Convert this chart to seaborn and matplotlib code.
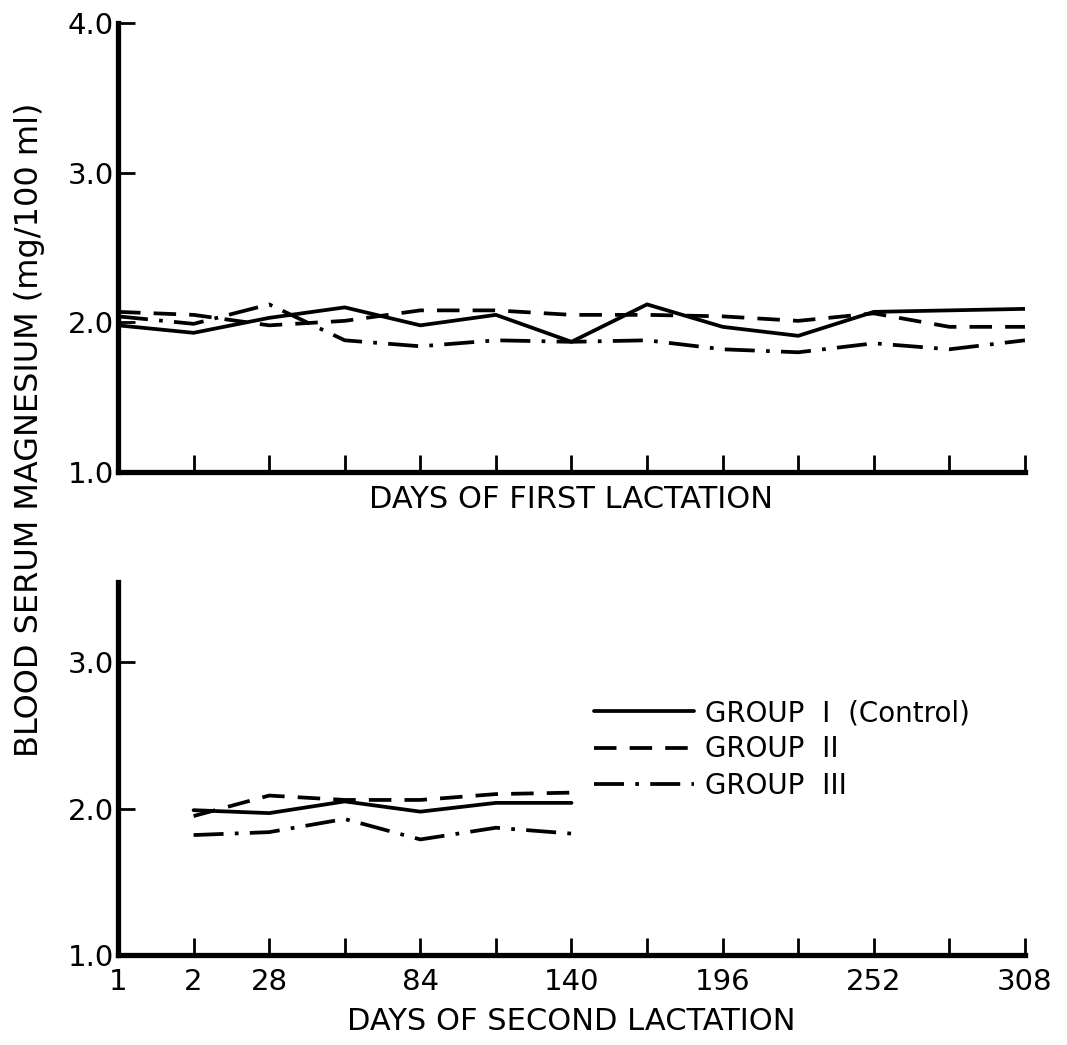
import pandas as pd
import seaborn as sns
import matplotlib.pyplot as plt

# dias de amostragem (posições categóricas no eixo x)
days = [1, 2, 28, 56, 84, 112, 140, 168, 196, 224, 252, 280, 308]
tick_labels = ['1', '2', '28', '', '84', '', '140', '', '196', '', '252', '', '308']
groups = ['GROUP  I  (Control)', 'GROUP  II', 'GROUP  III']

# primeira lactação (mg/100 ml)
first_g1 = [1.98, 1.93, 2.03, 2.10, 1.98, 2.05, 1.87, 2.12, 1.97, 1.91, 2.07, 2.08, 2.09]
first_g2 = [2.07, 2.05, 1.98, 2.01, 2.08, 2.08, 2.05, 2.05, 2.04, 2.01, 2.06, 1.97, 1.97]
first_g3 = [2.04, 1.99, 2.12, 1.88, 1.84, 1.88, 1.87, 1.88, 1.82, 1.80, 1.86, 1.82, 1.88]

# segunda lactação (dias 2 a 140)
second_days = [2, 28, 56, 84, 112, 140]
second_g1 = [1.99, 1.97, 2.05, 1.98, 2.04, 2.04]
second_g2 = [1.95, 2.09, 2.06, 2.06, 2.10, 2.11]
second_g3 = [1.82, 1.84, 1.93, 1.79, 1.87, 1.83]


def long_df(day_list, series):
    rows = []
    for grp, vals in zip(groups, series):
        for d, v in zip(day_list, vals):
            rows.append({'pos': days.index(d), 'value': v, 'group': grp})
    return pd.DataFrame(rows)


df1 = long_df(days, [first_g1, first_g2, first_g3])
df2 = long_df(second_days, [second_g1, second_g2, second_g3])

sns.set_style('ticks')
plt.rcParams['font.family'] = ['DejaVu Sans']
plt.rcParams['text.color'] = 'black'
plt.rcParams['axes.labelcolor'] = 'black'

dashes = {groups[0]: '', groups[1]: (6, 3.5), groups[2]: (8, 3, 1, 3)}
lw = 2.7

fig = plt.figure(figsize=(10.67, 10.45), dpi=100)
ax1 = fig.add_axes([0.1106, 0.5483, 0.850, 0.4297])
ax2 = fig.add_axes([0.1106, 0.0861, 0.850, 0.357])

sns.lineplot(data=df1, x='pos', y='value', style='group', dashes=dashes,
             color='black', linewidth=lw, ax=ax1, legend=False)
sns.lineplot(data=df2, x='pos', y='value', style='group', dashes=dashes,
             color='black', linewidth=lw, ax=ax2, legend=True)

for ax, top in [(ax1, 4.0), (ax2, 3.55)]:
    ax.set_xlim(0, len(days) - 1)
    ax.set_ylim(1.0, top)
    sns.despine(ax=ax)
    for s in ['left', 'bottom']:
        ax.spines[s].set_linewidth(3.8)
        ax.spines[s].set_color('black')
    ax.set_xticks(range(len(days)))
    ax.set_yticks([1.0, 2.0, 3.0, 4.0] if top == 4.0 else [1.0, 2.0, 3.0])
    ax.set_yticklabels([f'{t:.1f}' for t in ax.get_yticks()])
    ax.tick_params(direction='in', length=12, width=2, labelsize=21, pad=3,
                   color='black', labelcolor='black')
    ax.set_ylabel('')

ax1.set_xticklabels([])
ax2.set_xticklabels(tick_labels)
ax2.tick_params(axis='x', pad=9)

ax1.set_xlabel('DAYS OF FIRST LACTATION', fontsize=22, labelpad=6, color='black')
ax2.set_xlabel('DAYS OF SECOND LACTATION', fontsize=22, labelpad=8, color='black')

fig.text(0.028, 0.589, 'BLOOD SERUM MAGNESIUM (mg/100 ml)', rotation=90,
         va='center', ha='center', fontsize=23, color='black')

handles, labels = ax2.get_legend_handles_labels()
for h in handles:
    h.set_linewidth(lw)
    h.set_color('black')
ax2.legend(handles, labels, loc='upper left', bbox_to_anchor=(0.533, 0.355),
           bbox_transform=fig.transFigure, frameon=False, handlelength=3.6,
           fontsize=20, labelspacing=0.3, handletextpad=0.4)

plt.savefig('out.png', dpi=100)
